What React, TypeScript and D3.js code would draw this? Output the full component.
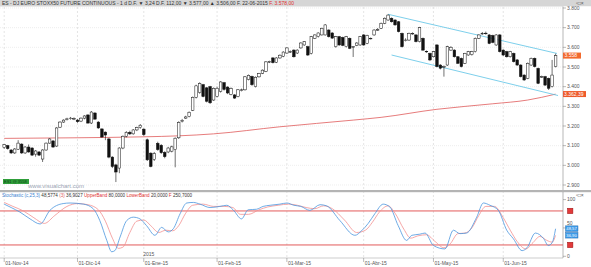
import React from 'react';
import * as d3 from 'd3';

const W = 591;
const H = 267;

// OHLC, one entry per trading day (31-Oct-2014 .. 22-Jun-2015)
const opens = [3090,3100,3078,3063,3082,3108,3063,3093,3088,3057,3068,3032,3078,3113,3124,3098,3194,3220,3234,3238,3236,
3230,3225,3240,3256,3215,3266,3220,3185,3169,3134,3042,3002,2986,3088,3148,3168,3160,3180,3192,
3184,3130,3062,3030,3112,3102,3066,3068,3072,3080,3140,3222,3240,3248,3280,3346,3370,3410,3394,3400,3332,
3350,3376,3420,3398,3360,3358,3350,3380,3384,3436,3452,3400,3450,3468,3478,3524,3546,3524,3546,3554,
3571,3576,3586,3571,3597,3612,3603,3569,3646,3655,3663,3663,3688,3673,3603,3654,3650,3603,3646,3602,3610,3612,
3663,3620,3644,3663,3688,3697,3722,3739,3748,3739,3730,3671,3636,3637,3670,3663,3629,3646,3580,3569,
3552,3612,3510,3500,3510,3586,3586,3552,3544,3519,3561,3563,3578,3646,3668,3670,3663,3660,3612,3663,
3586,3578,3552,3569,3536,3510,3459,3442,3510,3544,3493,3448,3451,3442,3400,3502];
const highs = [3108,3104,3082,3088,3128,3112,3098,3106,3092,3078,3072,3082,3116,3138,3128,3194,3224,3234,3242,3246,3244,
3236,3244,3255,3260,3276,3270,3224,3188,3172,3140,3046,3008,3092,3152,3174,3176,3184,3196,3210,
3188,3136,3066,3068,3120,3108,3072,3094,3100,3142,3224,3236,3252,3274,3350,3410,3422,3414,3398,3404,3396,
3400,3428,3424,3402,3396,3362,3388,3390,3454,3462,3456,3452,3470,3488,3530,3532,3550,3550,3564,3580,
3600,3584,3590,3590,3626,3632,3608,3658,3666,3676,3700,3718,3692,3677,3658,3658,3654,3658,3650,3606,3626,3658,
3667,3664,3650,3692,3698,3726,3752,3768,3752,3742,3734,3675,3646,3675,3676,3667,3704,3650,3584,3573,
3582,3616,3514,3508,3608,3606,3590,3556,3548,3572,3582,3582,3650,3666,3678,3680,3667,3664,3667,3667,
3590,3582,3582,3573,3540,3514,3463,3523,3548,3548,3497,3456,3455,3446,3536,3568];
const lows = [3084,3080,3058,3058,3078,3058,3058,3064,3048,3044,3048,3017,3074,3110,3090,3094,3190,3216,3228,3232,3230,
3216,3220,3234,3212,3210,3232,3186,3140,3128,3036,2986,2915,2960,3082,3142,3154,3156,3174,3186,
3150,3022,2990,3022,3074,3058,3036,3062,3066,2990,3134,3218,3236,3244,3276,3340,3364,3346,3320,3312,3328,
3345,3370,3380,3362,3356,3338,3346,3376,3380,3432,3404,3396,3446,3464,3474,3520,3518,3520,3542,3550,
3567,3572,3548,3566,3593,3608,3556,3564,3642,3650,3660,3660,3650,3643,3598,3608,3606,3599,3591,3551,3606,3608,
3608,3616,3640,3659,3684,3693,3718,3735,3726,3710,3676,3599,3630,3633,3664,3625,3625,3582,3572,3530,
3548,3498,3488,3451,3506,3582,3548,3515,3498,3515,3557,3558,3574,3642,3664,3664,3616,3621,3608,3574,
3556,3548,3548,3523,3506,3447,3430,3438,3506,3498,3413,3444,3404,3383,3396,3498];
const closes = [3105,3085,3063,3083,3113,3063,3093,3068,3052,3073,3052,3078,3113,3134,3093,3190,3220,3230,3236,3240,3238,
3222,3240,3251,3215,3271,3235,3190,3144,3154,3042,2994,2966,3088,3148,3168,3160,3180,3192,3204,
3156,3028,2994,3060,3080,3064,3044,3088,3094,3138,3218,3228,3246,3270,3346,3404,3416,3350,3326,3318,3392,
3392,3424,3386,3368,3390,3342,3384,3384,3450,3458,3410,3448,3466,3484,3526,3528,3522,3546,3560,3576,
3597,3578,3552,3586,3622,3629,3561,3654,3663,3673,3697,3714,3654,3647,3654,3612,3610,3654,3595,3603,3622,3654,
3612,3660,3646,3688,3690,3722,3748,3764,3730,3714,3680,3603,3637,3671,3671,3629,3700,3586,3578,3536,
3578,3502,3494,3502,3603,3600,3552,3519,3502,3569,3578,3578,3646,3663,3671,3672,3620,3625,3663,3578,
3561,3552,3578,3527,3510,3451,3434,3519,3544,3502,3417,3451,3408,3392,3459,3558];

const monthStarts = [0, 21, 40, 61, 81, 103, 123, 143];
const monthLabels = ['01-Nov-14', '01-Dic-14', '01-Ene-15', '01-Feb-15', '01-Mar-15', '01-Abr-15', '01-May-15', '01-Jun-15'];

const priceTicks = [2900, 3000, 3100, 3200, 3300, 3400, 3500, 3600, 3700, 3800];
const priceTickLabels = ['2.900', '3.000', '3.100', '3.200', '3.300', '3.400', '3.500', '3.600', '3.700', '3.800'];

// moving average knots [day index, value]
const maKnots: [number, number][] = [[0,3137],[20,3140],[40,3145],[50,3150],[60,3160],[79,3196],[100,3230],[108,3244],[124,3285],[140,3313],[150,3332],[158,3362]];

// trend channel [day index, price]
const channelUpper: [number, number][] = [[110, 3768], [158.4, 3569]];
const channelLower: [number, number][] = [[111, 3561], [158.7, 3355]];

// stochastic %K and %D knots [day index, value]
const stochK: [number, number][] = [[0,92],[2,86],[4.5,78],[7.4,66],[10.3,57],[13.1,81],[16.9,93],[18.9,94],[22.7,92],[25.5,84],[27.4,63],[29.4,28],[30.8,8],[31.7,10],[33.2,34],[35.1,63],[37,69],[38.9,66],[40.8,54],[43.2,37],[45.1,51],[47,43],[48.5,49],[50.4,75],[52.3,94],[54.2,95],[56.1,92],[59,86],[61.8,88],[63.8,90],[65.6,82],[68,66],[69.9,82],[72.3,83],[74.2,88],[76.2,90],[79,92],[81,94],[83,90],[85,88],[87.6,81],[90.5,91],[92.4,89],[96.2,63],[100.5,37],[102.4,45],[104.3,58],[106.2,75],[108.6,92],[110.5,87],[112.9,54],[115.3,28],[116.8,37],[119.1,39],[120.6,41],[123,19],[126.3,13],[128.7,46],[130.6,40],[132.5,41],[135.4,69],[137.3,94],[139.2,90],[141.6,81],[144,46],[145.9,31],[148.4,10],[149.8,15],[152.2,41],[154.6,31],[155.9,19],[157,24],[158,48.6]];
const stochD: [number, number][] = [[0,95],[2.5,88],[5.5,80],[8.5,68],[11.5,58],[14.5,72],[18,88],[21,93],[24,91],[27,82],[29,62],[31,32],[32.7,14],[34,16],[36,42],[38,62],[40,64],[42,54],[44.3,42],[46.3,46],[48.3,45],[50,54],[52,76],[54,90],[57,92],[60,88],[63,88],[65.5,86],[67.7,74],[70,74],[73,82],[75.5,87],[78.5,90],[81.5,92],[84,90],[86.5,86],[89,84],[91.5,89],[94,84],[97.5,64],[101,42],[103.5,46],[105.5,60],[107.5,78],[110,89],[112,76],[114.5,48],[116.5,32],[118.5,36],[121,38],[123.5,26],[126,15],[127.8,22],[130,40],[132,41],[134,50],[136,72],[138,88],[140.5,88],[143,68],[145,46],[147,26],[149.5,13],[151.5,24],[153.5,35],[155.5,28],[157,25],[158,36.9]];

const bands = [80, 20];
const oscTicks = [100, 50, 0];
const oscTickLabels = ['100', '50', '0'];

const lastPrice = 3558;
const lastMA = 3362.39;
const lastK = 48.5774;
const lastD = 36.9027;

const FONT = 'Liberation Sans, Arial, sans-serif';

export default function App() {
  const plotRight = 563;
  const x = d3.scaleLinear().domain([0, 158]).range([4.2, 555.6]);
  const y = d3.scaleLinear().domain([2900, 3800]).range([185, 8]);
  const yo = d3.scaleLinear().domain([0, 100]).range([256.3, 199.6]);

  const line = d3.line<[number, number]>().x(d => x(d[0])).y(d => y(d[1]));
  const maLine = d3.line<[number, number]>().x(d => x(d[0])).y(d => y(d[1])).curve(d3.curveMonotoneX);
  const oscLine = d3.line<[number, number]>().x(d => x(d[0])).y(d => yo(d[1])).curve(d3.curveMonotoneX);

  const bw = 2.6;

  return (
    <svg width={W} height={H} style={{ position: 'absolute', left: 0, top: 0, background: '#fff' }} fontFamily={FONT}>
      <rect x={0} y={0} width={W} height={H} fill="#fff" />
      {/* header bar */}
      <rect x={0} y={0} width={W} height={6.5} fill="#d6d6d6" />
      <text x={2} y={5} fontSize={5} fill="#333">
        ES - DJ EURO STOXX50 FUTURE CONTINUOUS -  1 d D.F.  ▼  3,24 D.F.  112,00 ▼  3.577,00 ▲  3.506,00 F.  22-06-2015 <tspan fill="#e03030">F.  3.578,00</tspan>
      </text>
      <text x={576} y={5} fontSize={5} fill="#555">▫□×</text>

      {/* horizontal grid */}
      {priceTicks.map(t => (
        <line key={'hg' + t} x1={0} x2={plotRight} y1={y(t)} y2={y(t)} stroke="#e2e2e2" strokeWidth={0.6} strokeDasharray="1,1" />
      ))}
      {/* vertical grid */}
      {monthStarts.map(m => (
        <line key={'vg' + m} x1={x(m)} x2={x(m)} y1={7} y2={258} stroke="#d4d4d4" strokeWidth={0.6} strokeDasharray="2,2" />
      ))}

      {/* moving average */}
      <path d={maLine(maKnots) || ''} fill="none" stroke="#e05a5a" strokeWidth={0.8} />

      {/* channel */}
      <path d={line(channelUpper) || ''} fill="none" stroke="#5cc3e6" strokeWidth={0.8} />
      <path d={line(channelLower) || ''} fill="none" stroke="#5cc3e6" strokeWidth={0.8} />

      {/* candles */}
      {closes.map((c, i) => {
        const o = opens[i];
        const up = c >= o;
        const top = y(Math.max(o, c));
        const bot = y(Math.min(o, c));
        const cx = x(i);
        return (
          <g key={'c' + i}>
            <line x1={cx} x2={cx} y1={y(highs[i])} y2={y(lows[i])} stroke="#111" strokeWidth={0.6} />
            <rect x={cx - bw / 2} y={top} width={bw} height={Math.max(0.6, bot - top)} fill={up ? '#fff' : '#111'} stroke="#111" strokeWidth={0.5} />
          </g>
        );
      })}

      {/* watermark and symbol tag */}
      <rect x={3} y={179} width={26} height={5} fill="#2f9e3a" />
      <text x={4} y={183.2} fontSize={4} fill="#0b3d10">ES1 @ 3558</text>
      <text x={28} y={188} fontSize={6} fill="#9aa4b4">www.visualchart.com</text>

      {/* right price axis */}
      <rect x={plotRight} y={6.5} width={W - plotRight} height={184} fill="#fff" />
      <line x1={plotRight} x2={plotRight} y1={6.5} y2={191} stroke="#888" strokeWidth={0.6} />
      {priceTicks.map((t, i) => (
        <g key={'pt' + t}>
          <line x1={plotRight} x2={plotRight + 3} y1={y(t)} y2={y(t)} stroke="#777" strokeWidth={0.5} />
          <text x={567} y={y(t) + 1.8} fontSize={5} fill="#555">{priceTickLabels[i]}</text>
        </g>
      ))}
      <rect x={563} y={y(lastPrice) - 3} width={18} height={6} fill="#f26a2e" />
      <text x={564.5} y={y(lastPrice) + 1.8} fontSize={5} fill="#fff">3.558</text>
      <rect x={563} y={y(lastMA) - 3} width={23} height={6} fill="#ee5a2a" />
      <text x={564} y={y(lastMA) + 1.8} fontSize={5} fill="#fff">3.362,39</text>

      {/* separator */}
      <rect x={0} y={190} width={W} height={2.2} fill="#b4b4b4" />

      {/* oscillator header */}
      <text x={2} y={196.5} fontSize={4.6} fill="#333">
        <tspan fill="#3a7fd0">Stochastic (c,25,3)</tspan>  48,5774  <tspan fill="#e06060">(3)</tspan>  36,9027  <tspan fill="#e03030">UpperBand</tspan>  80,0000  <tspan fill="#e03030">LowerBand</tspan>  20,0000  <tspan fill="#e03030">F</tspan>  250,7000
      </text>
      <text x={576} y={197} fontSize={5} fill="#555">▫□×</text>

      {/* bands */}
      {bands.map(b => (
        <line key={'b' + b} x1={0} x2={plotRight} y1={yo(b)} y2={yo(b)} stroke="#e04848" strokeWidth={0.9} />
      ))}

      {/* stochastic lines */}
      <path d={oscLine(stochD) || ''} fill="none" stroke="#f29090" strokeWidth={0.8} />
      <path d={oscLine(stochK) || ''} fill="none" stroke="#4a95de" strokeWidth={0.8} />

      {/* oscillator axis */}
      <line x1={plotRight} x2={plotRight} y1={192} y2={258} stroke="#888" strokeWidth={0.6} />
      {oscTicks.map((t, i) => (
        <g key={'ot' + t}>
          <line x1={plotRight} x2={plotRight + 3} y1={yo(t)} y2={yo(t)} stroke="#777" strokeWidth={0.5} />
          <text x={567} y={yo(t) + 1.8 - (t === 50 ? 5 : 0)} fontSize={5} fill="#555">{oscTickLabels[i]}</text>
        </g>
      ))}
      {bands.map(b => (
        <rect key={'bm' + b} x={567.5} y={yo(b) - 2.7} width={5.4} height={5.4} fill="#e23a3a" stroke="#9a1010" strokeWidth={0.5} />
      ))}
      <rect x={565.5} y={yo(lastK) - 2.9} width={12.5} height={5.6} fill="#3d9be9" stroke="#1f5fa0" strokeWidth={0.4} />
      <text x={566.3} y={yo(lastK) + 1.5} fontSize={4.2} fill="#fff">48,57</text>
      <rect x={565.5} y={yo(lastD) - 2.9} width={12.5} height={5.6} fill="#3d9be9" stroke="#1f5fa0" strokeWidth={0.4} />
      <text x={566.3} y={yo(lastD) + 1.5} fontSize={4.2} fill="#fff">36,90</text>

      {/* bottom axis */}
      <line x1={0} x2={plotRight} y1={258} y2={258} stroke="#999" strokeWidth={0.5} />
      {monthStarts.map((m, i) => (
        <g key={'xl' + m}>
          <line x1={x(m)} x2={x(m)} y1={258} y2={262} stroke="#777" strokeWidth={0.5} />
          <text x={x(m) + 1} y={264.5} fontSize={5} fill="#555">{monthLabels[i]}</text>
        </g>
      ))}
      <text x={x(40) - 0.5} y={255.5} fontSize={5} fill="#555">2015</text>
    </svg>
  );
}
